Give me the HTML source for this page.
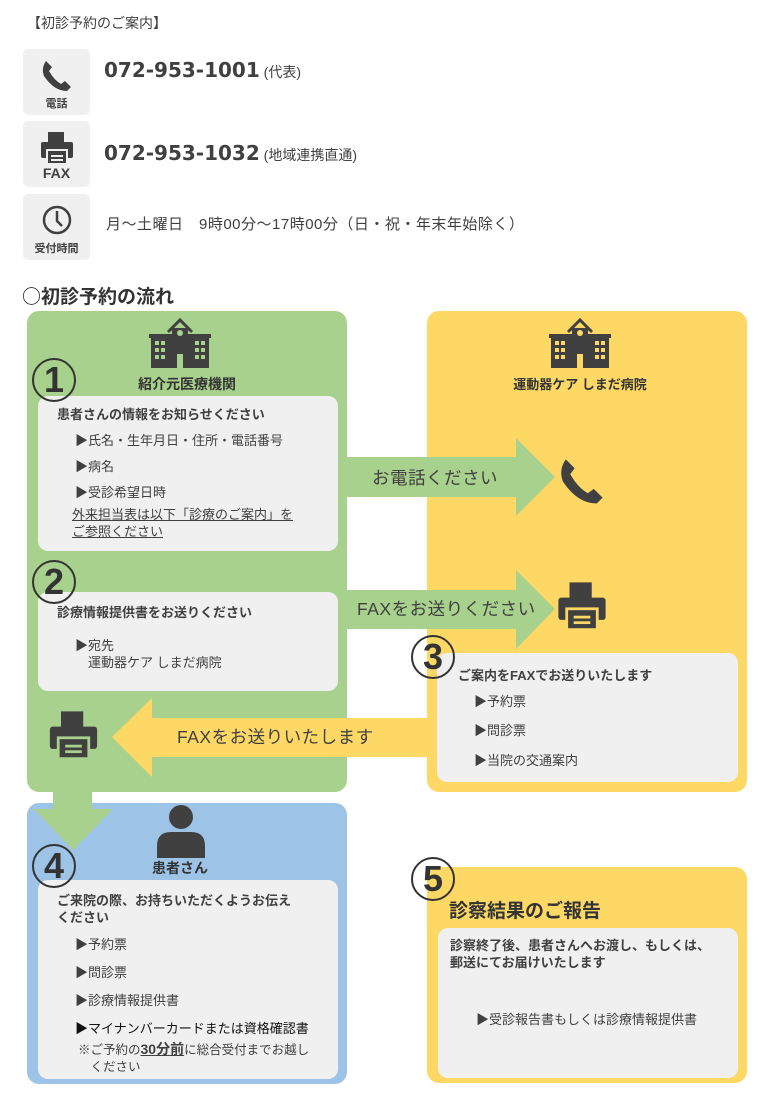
<!DOCTYPE html>
<html><head><meta charset="utf-8"><style>
*{margin:0;padding:0;box-sizing:border-box}
body{width:777px;height:1100px;background:#fff;position:relative;overflow:hidden;font-family:"Liberation Sans","Noto Sans CJK JP",sans-serif;color:#404040}
.a{position:absolute;white-space:nowrap}
.ib{position:absolute;left:23px;width:67px;height:66px;background:#f0f0f0;border-radius:5px}
.ib span{position:absolute;left:0;right:0;text-align:center;font-weight:bold;font-size:11px;color:#404040}
.box{position:absolute;border-radius:12px}
.wb{position:absolute;background:#f0f0f0;border-radius:10px}
.num{position:absolute;width:44px;height:44px;border:2px solid #333;border-radius:50%;font-weight:bold;font-size:36px;line-height:40px;text-align:center;color:#333}
.t13{font-size:13px}
.b{font-weight:bold}
.ph{font-family:"DejaVu Sans","Noto Sans CJK JP",sans-serif;font-weight:bold;font-size:20px}
</style></head><body>
<div class="a" style="left:27px;top:13px;font-size:14px">【初診予約のご案内】</div>

<div class="ib" style="top:49px"><svg style="position:absolute;left:17px;top:9px" width="34" height="34" viewBox="0 0 34 34"><path d="M6 3 L12 9 L9 13 Q14 22 21 26 L25 23 L31 29 L27 33 Q14 33 4 18 Q1 10 6 3Z" fill="#404040"/></svg><span style="top:46px">電話</span></div>
<div class="ib" style="top:121px"><svg style="position:absolute;left:16px;top:9px" width="36" height="36" viewBox="0 0 36 36"><rect x="9" y="2" width="16" height="12" fill="#404040"/><rect x="2" y="12" width="32" height="16" rx="2" fill="#404040"/><rect x="8" y="20" width="20" height="14" fill="#404040" stroke="#f0f0f0" stroke-width="2"/><rect x="12" y="25" width="12" height="2" fill="#f0f0f0"/><rect x="12" y="29" width="12" height="2" fill="#f0f0f0"/></svg><span style="top:44px;font-size:14px">FAX</span></div>
<div class="ib" style="top:194px"><svg style="position:absolute;left:18px;top:10px" width="32" height="32" viewBox="0 0 32 32"><circle cx="16" cy="16" r="13" fill="none" stroke="#404040" stroke-width="2.5"/><path d="M16 7 V17 L21 22" fill="none" stroke="#404040" stroke-width="2.5"/></svg><span style="top:46px">受付時間</span></div>

<div class="a" style="left:104px;top:58px"><span class="ph">072-953-1001</span><span style="font-size:14px"> (代表)</span></div>
<div class="a" style="left:104px;top:141px"><span class="ph">072-953-1032</span><span style="font-size:14px"> (地域連携直通)</span></div>
<div class="a" style="left:106px;top:213px;font-size:15px;letter-spacing:0.5px">月～土曜日　9時00分～17時00分（日・祝・年末年始除く）</div>

<div class="a b" style="left:22px;top:283px;font-size:19px;color:#333;font-family:'Noto Sans CJK JP',sans-serif;line-height:26px">○初診予約の流れ</div>

<div class="box" style="left:27px;top:311px;width:320px;height:481px;background:#a9d18e"></div>
<div class="box" style="left:427px;top:311px;width:320px;height:481px;background:#fdd865"></div>
<div class="box" style="left:27px;top:803px;width:320px;height:281px;background:#9dc3e6"></div>
<div class="box" style="left:427px;top:867px;width:320px;height:216px;background:#fdd865"></div>

<svg class="a" style="left:148px;top:316px" width="64" height="54" viewBox="0 0 64 54"><path d="M20 16 L32 4 L44 16" fill="none" stroke="#404040" stroke-width="3"/><rect x="1" y="18" width="62" height="4" fill="#404040"/><rect x="3" y="20" width="58" height="32" fill="#404040"/><rect x="24" y="12" width="16" height="10" fill="#404040"/><g fill="#a9d18e"><rect x="7" y="25" width="4" height="4"/><rect x="13" y="25" width="4" height="4"/><rect x="7" y="32" width="4" height="4"/><rect x="13" y="32" width="4" height="4"/><rect x="7" y="39" width="4" height="4"/><rect x="13" y="39" width="4" height="4"/><rect x="47" y="25" width="4" height="4"/><rect x="53" y="25" width="4" height="4"/><rect x="47" y="32" width="4" height="4"/><rect x="53" y="32" width="4" height="4"/><rect x="47" y="39" width="4" height="4"/><rect x="53" y="39" width="4" height="4"/><rect x="29" y="38" width="6" height="14"/><circle cx="32" cy="17" r="3"/></g></svg>
<svg class="a" style="left:548px;top:316px" width="64" height="54" viewBox="0 0 64 54"><path d="M20 16 L32 4 L44 16" fill="none" stroke="#404040" stroke-width="3"/><rect x="1" y="18" width="62" height="4" fill="#404040"/><rect x="3" y="20" width="58" height="32" fill="#404040"/><rect x="24" y="12" width="16" height="10" fill="#404040"/><g fill="#fdd865"><rect x="7" y="25" width="4" height="4"/><rect x="13" y="25" width="4" height="4"/><rect x="7" y="32" width="4" height="4"/><rect x="13" y="32" width="4" height="4"/><rect x="7" y="39" width="4" height="4"/><rect x="13" y="39" width="4" height="4"/><rect x="47" y="25" width="4" height="4"/><rect x="53" y="25" width="4" height="4"/><rect x="47" y="32" width="4" height="4"/><rect x="53" y="32" width="4" height="4"/><rect x="47" y="39" width="4" height="4"/><rect x="53" y="39" width="4" height="4"/><rect x="29" y="38" width="6" height="14"/><circle cx="32" cy="17" r="3"/></g></svg>
<div class="a b" style="left:27px;width:320px;text-align:center;top:374px;font-size:14px;color:#333">紹介元医療機関</div>
<div class="a b" style="left:427px;width:306px;text-align:center;top:374px;font-size:13px;color:#333">運動器ケア しまだ病院</div>

<div class="wb" style="left:38px;top:396px;width:300px;height:155px"></div>
<div class="num" style="left:32px;top:358px">1</div>
<div class="a b t13" style="left:57px;top:404px">患者さんの情報をお知らせください</div>
<div class="a t13" style="left:75px;top:430px">▶氏名・生年月日・住所・電話番号</div>
<div class="a t13" style="left:75px;top:456px">▶病名</div>
<div class="a t13" style="left:75px;top:482px">▶受診希望日時</div>
<div class="a t13" style="left:72px;top:506px;text-decoration:underline;line-height:17px">外来担当表は以下「診療のご案内」を<br>ご参照ください</div>

<div class="wb" style="left:38px;top:592px;width:300px;height:99px"></div>
<div class="num" style="left:32px;top:560px">2</div>
<div class="a b t13" style="left:57px;top:602px">診療情報提供書をお送りください</div>
<div class="a t13" style="left:75px;top:637px;line-height:17px">▶宛先<br>　運動器ケア しまだ病院</div>

<svg class="a" style="left:347px;top:436px" width="212" height="84"><polygon points="0,21 169,21 169,2 208,41 169,80 169,61 0,61" fill="#a9d18e"/></svg>
<div class="a" style="left:372px;top:465px;font-size:17.5px;letter-spacing:0.5px">お電話ください</div>
<svg class="a" style="left:347px;top:569px" width="212" height="84"><polygon points="0,21 169,21 169,1 208,40 169,80 169,60 0,60" fill="#a9d18e"/></svg>
<div class="a" style="left:357px;top:596px;font-size:17.5px;letter-spacing:0.5px">FAXをお送りください</div>

<svg class="a" style="left:557px;top:455px" width="50" height="50" viewBox="0 0 34 34"><path d="M6 3 L12 9 L9 13 Q14 22 21 26 L25 23 L31 29 L27 33 Q14 33 4 18 Q1 10 6 3Z" fill="#404040"/></svg>
<svg class="a" style="left:556px;top:581px" width="52" height="50" viewBox="0 0 36 36"><rect x="9" y="1" width="16" height="12" fill="#404040"/><rect x="1" y="12" width="34" height="16" rx="2" fill="#404040"/><rect x="7" y="20" width="22" height="15" fill="#404040" stroke="#fdd865" stroke-width="2"/><rect x="12" y="25" width="12" height="2" fill="#fdd865"/><rect x="12" y="29" width="12" height="2" fill="#fdd865"/></svg>

<div class="wb" style="left:437px;top:653px;width:301px;height:129px"></div>
<div class="num" style="left:411px;top:635px">3</div>
<div class="a b t13" style="left:458px;top:665px">ご案内をFAXでお送りいたします</div>
<div class="a t13" style="left:474px;top:691px">▶予約票</div>
<div class="a t13" style="left:474px;top:720px">▶問診票</div>
<div class="a t13" style="left:474px;top:750px">▶当院の交通案内</div>

<svg class="a" style="left:110px;top:697px" width="328" height="82"><polygon points="327,21 42,21 42,1 2,40 42,80 42,60 327,60" fill="#fdd865"/></svg>
<div class="a" style="left:177px;top:724px;font-size:17.5px;letter-spacing:0.5px">FAXをお送りいたします</div>
<svg class="a" style="left:47px;top:710px" width="53" height="50" viewBox="0 0 36 36"><rect x="9" y="1" width="16" height="12" fill="#404040"/><rect x="1" y="12" width="34" height="16" rx="2" fill="#404040"/><rect x="7" y="20" width="22" height="15" fill="#404040" stroke="#a9d18e" stroke-width="2"/><rect x="12" y="25" width="12" height="2" fill="#a9d18e"/><rect x="12" y="29" width="12" height="2" fill="#a9d18e"/></svg>

<svg class="a" style="left:33px;top:790px" width="82" height="62"><polygon points="20,0 59,0 59,19 80,19 40,60 1,19 20,19" fill="#a9d18e"/></svg>

<svg class="a" style="left:155px;top:804px" width="52" height="54" viewBox="0 0 52 54"><circle cx="26" cy="13" r="12" fill="#404040"/><path d="M2 54 V42 Q2 28 16 28 H36 Q50 28 50 42 V54Z" fill="#404040"/></svg>
<div class="a b" style="left:27px;width:306px;text-align:center;top:858px;font-size:14px;color:#333">患者さん</div>

<div class="wb" style="left:38px;top:880px;width:300px;height:199px"></div>
<div class="num" style="left:32px;top:844px">4</div>
<div class="a b t13" style="left:57px;top:892px;line-height:17px">ご来院の際、お持ちいただくようお伝え<br>ください</div>
<div class="a t13" style="left:75px;top:934px">▶予約票</div>
<div class="a t13" style="left:75px;top:962px">▶問診票</div>
<div class="a t13" style="left:75px;top:990px">▶診療情報提供書</div>
<div class="a t13" style="left:75px;top:1018px;color:#111">▶マイナンバーカードまたは資格確認書</div>
<div class="a" style="left:78px;top:1041px;font-size:12.5px;line-height:17px">※ご予約の<b style="font-size:14px;text-decoration:underline">30分前</b>に総合受付までお越し<br>　ください</div>

<div class="num" style="left:411px;top:857px">5</div>
<div class="a b" style="left:449px;top:896px;font-size:19px;color:#333">診察結果のご報告</div>
<div class="wb" style="left:438px;top:928px;width:300px;height:150px"></div>
<div class="a b t13" style="left:450px;top:937px;line-height:17px">診察終了後、患者さんへお渡し、もしくは、<br>郵送にてお届けいたします</div>
<div class="a t13" style="left:476px;top:1009px">▶受診報告書もしくは診療情報提供書</div>
</body></html>
